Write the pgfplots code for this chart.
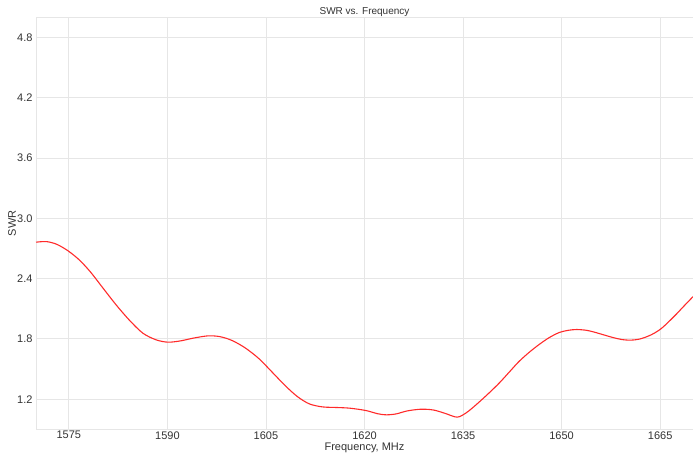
\documentclass[border=0pt]{standalone}
\usepackage{pgfplots}
\pgfplotsset{compat=1.18}
\usepackage{fontspec}
\setmainfont{Liberation Sans}

\definecolor{gridgray}{HTML}{E6E6E6}
\definecolor{txtgray}{HTML}{333333}
\definecolor{swrred}{HTML}{FF2A2A}

\pgfplotstableread{
f     swr
1570.0 2.762
1571.6 2.768
1573.2 2.740
1574.9 2.675
1576.6 2.585
1578.3 2.465
1580.2 2.305
1582.2 2.138
1584.3 1.980
1586.3 1.855
1588.3 1.790
1590.1 1.767
1592.0 1.780
1594.0 1.808
1596.2 1.830
1598.0 1.822
1599.8 1.785
1601.8 1.712
1603.9 1.605
1606.0 1.465
1608.0 1.330
1609.8 1.225
1611.6 1.153
1613.6 1.123
1615.8 1.117
1617.8 1.110
1620.2 1.087
1622.0 1.055
1623.3 1.044
1624.8 1.053
1626.5 1.083
1628.6 1.100
1630.5 1.092
1632.3 1.058
1634.1 1.021
1635.5 1.065
1637.0 1.145
1638.8 1.252
1640.5 1.360
1642.0 1.467
1643.5 1.574
1645.1 1.668
1646.6 1.745
1648.1 1.812
1649.6 1.862
1651.0 1.885
1652.3 1.893
1653.8 1.885
1655.2 1.863
1656.5 1.838
1657.9 1.812
1659.2 1.793
1660.5 1.787
1661.8 1.797
1663.1 1.825
1664.2 1.860
1665.4 1.915
1667.3 2.035
1668.6 2.125
1670.0 2.220
}\swrdata

\begin{document}
\begin{tikzpicture}
\begin{axis}[
    scale only axis,
    width=657pt, height=412pt,
    xmin=1570, xmax=1670,
    ymin=0.9, ymax=5.0,
    xtick={1575,1590,...,1665},
    ytick={1.2,1.8,2.4,3.0,3.6,4.2,4.8},
    yticklabel style={/pgf/number format/.cd, fixed, fixed zerofill, precision=1},
    xticklabel style={/pgf/number format/.cd, 1000 sep={}, /tikz/yshift=1.5pt},
    /pgf/number format/assume math mode=true,
    ticklabel style={font=\fontsize{11}{12}\selectfont, text=txtgray},
    major tick length=0pt,
    grid=major,
    major grid style={gridgray, line width=0.8pt},
    axis line style={gridgray, line width=0.8pt},
    xlabel={Frequency, MHz},
    ylabel={SWR},
    label style={font=\fontsize{11}{12}\selectfont, text=txtgray},
    xlabel style={at={(axis description cs:0.5,-0.0456)}, anchor=center},
    ylabel style={at={(axis description cs:-0.0365,0.5)}, anchor=center},
    title={SWR vs. Frequency},
    title style={font=\fontsize{10}{12}\selectfont, text=txtgray, at={(axis description cs:0.5,1.0129)}, anchor=center, yshift=-6pt},
    xticklabel shift=0pt,
    yticklabel shift=0pt,
]
\addplot [color=swrred, line width=1.1pt, smooth] table [x=f, y=swr] {\swrdata};
\end{axis}
\pgfresetboundingbox
\useasboundingbox (-36pt,-29.7pt) rectangle (657pt,429.3pt);
\end{tikzpicture}
\end{document}
